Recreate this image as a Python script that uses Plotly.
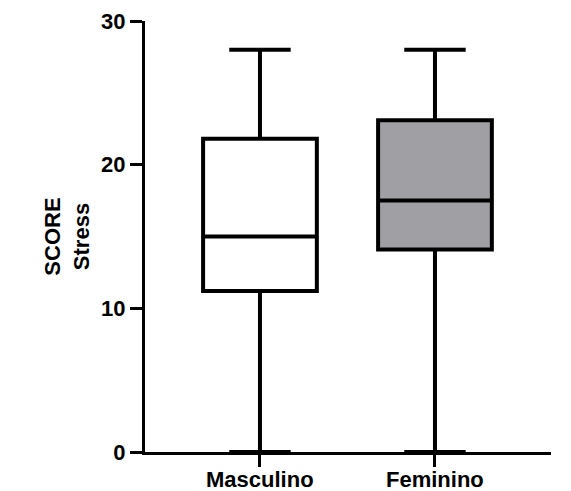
import plotly.graph_objects as go

categories = ["Masculino", "Feminino"]
lower_fence = [0, 0]
q1_vals = [11.2, 14.1]
median_vals = [15.0, 17.5]
q3_vals = [21.8, 23.1]
upper_fence = [28, 28]
fill_colors = ["#ffffff", "#a09fa4"]

FONT = dict(family="Liberation Sans, Arial, sans-serif", size=22, color="#000000", weight="bold")

fig = go.Figure()
for i, cat in enumerate(categories):
    fig.add_trace(go.Box(
        x=[cat],
        q1=[q1_vals[i]],
        median=[median_vals[i]],
        q3=[q3_vals[i]],
        lowerfence=[lower_fence[i]],
        upperfence=[upper_fence[i]],
        fillcolor=fill_colors[i],
        line=dict(color="#000000", width=4),
        width=0.65,
        whiskerwidth=0.54,
        boxpoints=False,
        showlegend=False,
        hoverinfo="skip",
    ))

# category labels placed close under the axis ticks
for cat in categories:
    fig.add_annotation(
        x=cat, xref="x",
        y=0, yref="paper",
        text=cat, showarrow=False,
        yanchor="middle", xanchor="center",
        yshift=-27,
        font=FONT,
    )

# page body has an 8px default margin, so the figure is offset by 8px
fig.update_layout(
    width=563,
    height=483,
    margin=dict(l=137, r=20, t=13, b=39),
    paper_bgcolor="white",
    plot_bgcolor="white",
    font=FONT,
    showlegend=False,
)

fig.update_xaxes(
    type="category",
    range=[-0.657, 1.663],
    automargin=False,
    showgrid=False,
    zeroline=False,
    showline=True,
    linecolor="#000000",
    linewidth=3,
    ticks="outside",
    ticklen=12,
    tickwidth=3,
    tickcolor="#000000",
    showticklabels=False,
)

fig.update_yaxes(
    range=[0, 30],
    tickvals=[0, 10, 20, 30],
    automargin=False,
    showgrid=False,
    zeroline=False,
    showline=True,
    linecolor="#000000",
    linewidth=3,
    ticks="outside",
    ticklen=12,
    tickwidth=3,
    tickcolor="#000000",
    tickfont=FONT,
    title=dict(text="SCORE<br>Stress", font=FONT, standoff=6),
)

fig.write_html("out.html")
